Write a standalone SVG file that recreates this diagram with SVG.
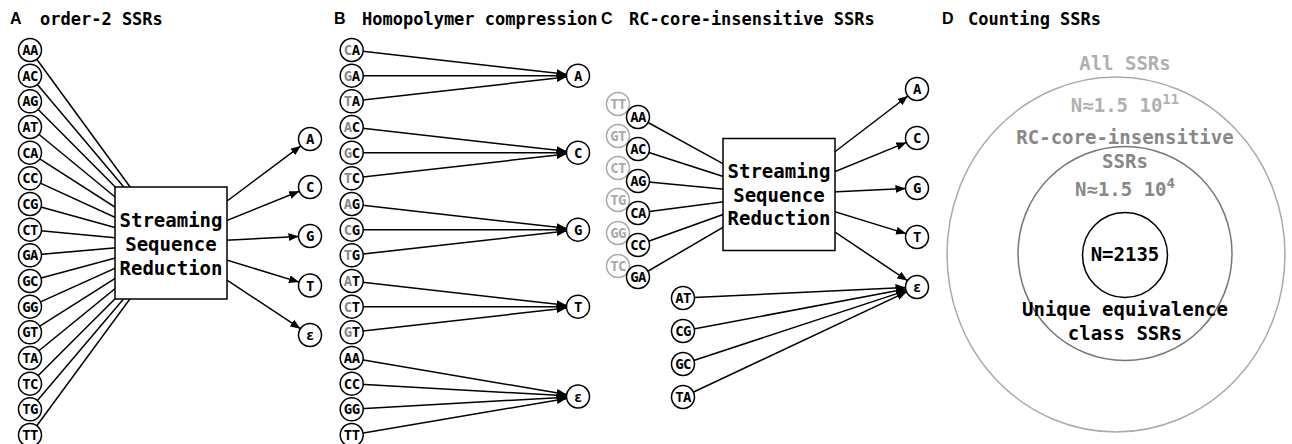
<svg xmlns="http://www.w3.org/2000/svg" width="1292" height="444" viewBox="0 0 1292 444">
<defs>
<marker id="arr" markerWidth="10" markerHeight="8" refX="10" refY="4" orient="auto" markerUnits="userSpaceOnUse">
<path d="M0,0 L10,4 L0,8 z" fill="#000"/>
</marker>
<style>
.ttl{font-family:"DejaVu Sans Mono",monospace;font-weight:bold;font-size:17px;fill:#000}
.let{font-family:"Liberation Sans",Arial,sans-serif;font-weight:bold;font-size:16px;fill:#000}
.nd circle{fill:#fff;stroke:#000;stroke-width:1.5}
.nd text{font-family:"DejaVu Sans Mono",monospace;font-weight:bold;font-size:14px;letter-spacing:-0.6px;text-anchor:middle;fill:#000}
.gn circle{fill:#fff;stroke:#aaa;stroke-width:1.5}
.gn text{font-family:"DejaVu Sans Mono",monospace;font-weight:bold;font-size:14px;letter-spacing:-0.6px;text-anchor:middle;fill:#aaa}
.g{fill:#888}
.box rect{fill:#fff;stroke:#000;stroke-width:1.5}
.box text,.dt{font-family:"DejaVu Sans Mono",monospace;font-weight:bold;font-size:19px;text-anchor:middle;fill:#000}
.ln line{stroke:#000;stroke-width:1.5;fill:none}
.ln line.a{marker-end:url(#arr)}
</style>
</defs>
<rect width="1292" height="444" fill="#fff"/>

<!-- titles -->
<g id="titles">
<text class="let" x="10" y="23.5">A</text><text class="ttl" x="40" y="25">order-2 SSRs</text>
<text class="let" x="334" y="23.5">B</text><text class="ttl" x="362" y="25">Homopolymer compression</text>
<text class="let" x="601" y="23.5">C</text><text class="ttl" x="629" y="25">RC-core-insensitive SSRs</text>
<text class="let" x="942" y="23.5">D</text><text class="ttl" x="968" y="25">Counting SSRs</text>
</g>

<!-- connectors -->
<g id="connectors" class="ln">
<!-- panel A inputs -->
<line x1="30" y1="50" x2="171" y2="243"/>
<line x1="30" y1="75.67" x2="171" y2="243"/>
<line x1="30" y1="101.33" x2="171" y2="243"/>
<line x1="30" y1="127" x2="171" y2="243"/>
<line x1="30" y1="152.67" x2="171" y2="243"/>
<line x1="30" y1="178.33" x2="171" y2="243"/>
<line x1="30" y1="204" x2="171" y2="243"/>
<line x1="30" y1="229.67" x2="171" y2="243"/>
<line x1="30" y1="255.33" x2="171" y2="243"/>
<line x1="30" y1="281" x2="171" y2="243"/>
<line x1="30" y1="306.67" x2="171" y2="243"/>
<line x1="30" y1="332.33" x2="171" y2="243"/>
<line x1="30" y1="358" x2="171" y2="243"/>
<line x1="30" y1="383.67" x2="171" y2="243"/>
<line x1="30" y1="409.33" x2="171" y2="243"/>
<line x1="30" y1="435" x2="171" y2="243"/>
<!-- panel A outputs -->
<line class="a" x1="171" y1="243" x2="300.8" y2="145.9"/>
<line class="a" x1="171" y1="243" x2="299.3" y2="191.3"/>
<line class="a" x1="171" y1="243" x2="298.5" y2="236.6"/>
<line class="a" x1="171" y1="243" x2="299" y2="282.1"/>
<line class="a" x1="171" y1="243" x2="300.4" y2="328.7"/>
<!-- panel B -->
<line class="a" x1="351.7" y1="50" x2="566.57" y2="74.37"/>
<line class="a" x1="351.7" y1="75.67" x2="566.5" y2="75.67"/>
<line class="a" x1="351.7" y1="101.33" x2="566.57" y2="76.97"/>
<line class="a" x1="351.7" y1="127" x2="566.57" y2="151.37"/>
<line class="a" x1="351.7" y1="152.67" x2="566.5" y2="152.67"/>
<line class="a" x1="351.7" y1="178.33" x2="566.57" y2="153.97"/>
<line class="a" x1="351.7" y1="204" x2="566.57" y2="228.37"/>
<line class="a" x1="351.7" y1="229.67" x2="566.5" y2="229.67"/>
<line class="a" x1="351.7" y1="255.33" x2="566.57" y2="230.97"/>
<line class="a" x1="351.7" y1="281" x2="566.57" y2="305.37"/>
<line class="a" x1="351.7" y1="306.67" x2="566.5" y2="306.67"/>
<line class="a" x1="351.7" y1="332.33" x2="566.57" y2="307.97"/>
<line class="a" x1="351.7" y1="358" x2="566.66" y2="394.57"/>
<line class="a" x1="351.7" y1="383.67" x2="566.52" y2="395.85"/>
<line class="a" x1="351.7" y1="409.33" x2="566.52" y2="397.15"/>
<line class="a" x1="351.7" y1="435" x2="566.66" y2="398.43"/>
<!-- panel C inputs -->
<line x1="638" y1="117" x2="779" y2="194.5"/>
<line x1="638" y1="149" x2="779" y2="194.5"/>
<line x1="638" y1="181" x2="779" y2="194.5"/>
<line x1="638" y1="213" x2="779" y2="194.5"/>
<line x1="638" y1="245" x2="779" y2="194.5"/>
<line x1="638" y1="277" x2="779" y2="194.5"/>
<!-- panel C outputs -->
<line class="a" x1="779" y1="194.5" x2="907.9" y2="96"/>
<line class="a" x1="779" y1="194.5" x2="906.4" y2="142.4"/>
<line class="a" x1="779" y1="194.5" x2="905.5" y2="188.5"/>
<line class="a" x1="779" y1="194.5" x2="906" y2="233.6"/>
<line class="a" x1="779" y1="194.5" x2="907.4" y2="280.6"/>
<!-- panel C lower -->
<line class="a" x1="683" y1="298" x2="905.5" y2="287.5"/>
<line class="a" x1="683" y1="331" x2="905.7" y2="289.1"/>
<line class="a" x1="683" y1="364" x2="906.1" y2="290.6"/>
<line class="a" x1="683" y1="397" x2="906.6" y2="291.9"/>
</g>

<!-- Panel A nodes -->
<g id="A-inputs" class="nd">
<g id="a-AA"><circle cx="30" cy="50" r="11.5"/><text x="30" y="55">AA</text></g>
<g id="a-AC"><circle cx="30" cy="75.67" r="11.5"/><text x="30" y="80.67">AC</text></g>
<g id="a-AG"><circle cx="30" cy="101.33" r="11.5"/><text x="30" y="106.33">AG</text></g>
<g id="a-AT"><circle cx="30" cy="127" r="11.5"/><text x="30" y="132">AT</text></g>
<g id="a-CA"><circle cx="30" cy="152.67" r="11.5"/><text x="30" y="157.67">CA</text></g>
<g id="a-CC"><circle cx="30" cy="178.33" r="11.5"/><text x="30" y="183.33">CC</text></g>
<g id="a-CG"><circle cx="30" cy="204" r="11.5"/><text x="30" y="209">CG</text></g>
<g id="a-CT"><circle cx="30" cy="229.67" r="11.5"/><text x="30" y="234.67">CT</text></g>
<g id="a-GA"><circle cx="30" cy="255.33" r="11.5"/><text x="30" y="260.33">GA</text></g>
<g id="a-GC"><circle cx="30" cy="281" r="11.5"/><text x="30" y="286">GC</text></g>
<g id="a-GG"><circle cx="30" cy="306.67" r="11.5"/><text x="30" y="311.67">GG</text></g>
<g id="a-GT"><circle cx="30" cy="332.33" r="11.5"/><text x="30" y="337.33">GT</text></g>
<g id="a-TA"><circle cx="30" cy="358" r="11.5"/><text x="30" y="363">TA</text></g>
<g id="a-TC"><circle cx="30" cy="383.67" r="11.5"/><text x="30" y="388.67">TC</text></g>
<g id="a-TG"><circle cx="30" cy="409.33" r="11.5"/><text x="30" y="414.33">TG</text></g>
<g id="a-TT"><circle cx="30" cy="435" r="11.5"/><text x="30" y="440">TT</text></g>
</g>
<g id="a-box" class="box"><rect x="115" y="187" width="112" height="112"/>
<text x="171" y="227">Streaming</text><text x="171" y="251">Sequence</text><text x="171" y="275">Reduction</text></g>
<g id="A-outputs" class="nd">
<g id="a-oA"><circle cx="310" cy="139" r="11.5"/><text x="310" y="144">A</text></g>
<g id="a-oC"><circle cx="310" cy="187" r="11.5"/><text x="310" y="192">C</text></g>
<g id="a-oG"><circle cx="310" cy="236" r="11.5"/><text x="310" y="241">G</text></g>
<g id="a-oT"><circle cx="310" cy="285.5" r="11.5"/><text x="310" y="290.5">T</text></g>
<g id="a-oE"><circle cx="310" cy="335" r="11.5"/><text x="310" y="340">ε</text></g>
</g>

<!-- Panel B nodes -->
<g id="B-inputs" class="nd">
<g id="b-CA"><circle cx="351.7" cy="50" r="11.5"/><text x="351.7" y="55"><tspan class="g">C</tspan>A</text></g>
<g id="b-GA"><circle cx="351.7" cy="75.67" r="11.5"/><text x="351.7" y="80.67"><tspan class="g">G</tspan>A</text></g>
<g id="b-TA"><circle cx="351.7" cy="101.33" r="11.5"/><text x="351.7" y="106.33"><tspan class="g">T</tspan>A</text></g>
<g id="b-AC"><circle cx="351.7" cy="127" r="11.5"/><text x="351.7" y="132"><tspan class="g">A</tspan>C</text></g>
<g id="b-GC"><circle cx="351.7" cy="152.67" r="11.5"/><text x="351.7" y="157.67"><tspan class="g">G</tspan>C</text></g>
<g id="b-TC"><circle cx="351.7" cy="178.33" r="11.5"/><text x="351.7" y="183.33"><tspan class="g">T</tspan>C</text></g>
<g id="b-AG"><circle cx="351.7" cy="204" r="11.5"/><text x="351.7" y="209"><tspan class="g">A</tspan>G</text></g>
<g id="b-CG"><circle cx="351.7" cy="229.67" r="11.5"/><text x="351.7" y="234.67"><tspan class="g">C</tspan>G</text></g>
<g id="b-TG"><circle cx="351.7" cy="255.33" r="11.5"/><text x="351.7" y="260.33"><tspan class="g">T</tspan>G</text></g>
<g id="b-AT"><circle cx="351.7" cy="281" r="11.5"/><text x="351.7" y="286"><tspan class="g">A</tspan>T</text></g>
<g id="b-CT"><circle cx="351.7" cy="306.67" r="11.5"/><text x="351.7" y="311.67"><tspan class="g">C</tspan>T</text></g>
<g id="b-GT"><circle cx="351.7" cy="332.33" r="11.5"/><text x="351.7" y="337.33"><tspan class="g">G</tspan>T</text></g>
<g id="b-AA"><circle cx="351.7" cy="358" r="11.5"/><text x="351.7" y="363">AA</text></g>
<g id="b-CC"><circle cx="351.7" cy="383.67" r="11.5"/><text x="351.7" y="388.67">CC</text></g>
<g id="b-GG"><circle cx="351.7" cy="409.33" r="11.5"/><text x="351.7" y="414.33">GG</text></g>
<g id="b-TT"><circle cx="351.7" cy="435" r="11.5"/><text x="351.7" y="440">TT</text></g>
</g>
<g id="B-outputs" class="nd">
<g id="b-oA"><circle cx="578" cy="75.67" r="11.5"/><text x="578" y="80.67">A</text></g>
<g id="b-oC"><circle cx="578" cy="152.67" r="11.5"/><text x="578" y="157.67">C</text></g>
<g id="b-oG"><circle cx="578" cy="229.67" r="11.5"/><text x="578" y="234.67">G</text></g>
<g id="b-oT"><circle cx="578" cy="306.67" r="11.5"/><text x="578" y="311.67">T</text></g>
<g id="b-oE"><circle cx="578" cy="396.5" r="11.5"/><text x="578" y="401.5">ε</text></g>
</g>

<!-- Panel C nodes -->
<g id="C-rc" class="gn">
<g id="c-TT"><circle cx="618" cy="104" r="11.5"/><text x="618" y="109">TT</text></g>
<g id="c-GT"><circle cx="618" cy="136" r="11.5"/><text x="618" y="141">GT</text></g>
<g id="c-CT"><circle cx="618" cy="168" r="11.5"/><text x="618" y="173">CT</text></g>
<g id="c-TG"><circle cx="618" cy="200" r="11.5"/><text x="618" y="205">TG</text></g>
<g id="c-GG"><circle cx="618" cy="233" r="11.5"/><text x="618" y="238">GG</text></g>
<g id="c-TC"><circle cx="618" cy="266" r="11.5"/><text x="618" y="271">TC</text></g>
</g>
<g id="C-inputs" class="nd">
<g id="c-AA"><circle cx="638" cy="117" r="11.5"/><text x="638" y="122">AA</text></g>
<g id="c-AC"><circle cx="638" cy="149" r="11.5"/><text x="638" y="154">AC</text></g>
<g id="c-AG"><circle cx="638" cy="181" r="11.5"/><text x="638" y="186">AG</text></g>
<g id="c-CA"><circle cx="638" cy="213" r="11.5"/><text x="638" y="218">CA</text></g>
<g id="c-CC"><circle cx="638" cy="245" r="11.5"/><text x="638" y="250">CC</text></g>
<g id="c-GA"><circle cx="638" cy="277" r="11.5"/><text x="638" y="282">GA</text></g>
</g>
<g id="c-box" class="box"><rect x="723" y="138.5" width="112" height="112"/>
<text x="779" y="178">Streaming</text><text x="779" y="201.5">Sequence</text><text x="779" y="225">Reduction</text></g>
<g id="C-lower" class="nd">
<g id="c-AT"><circle cx="683" cy="298" r="11.5"/><text x="683" y="303">AT</text></g>
<g id="c-CG"><circle cx="683" cy="331" r="11.5"/><text x="683" y="336">CG</text></g>
<g id="c-GC"><circle cx="683" cy="364" r="11.5"/><text x="683" y="369">GC</text></g>
<g id="c-TA"><circle cx="683" cy="397" r="11.5"/><text x="683" y="402">TA</text></g>
</g>
<g id="C-outputs" class="nd">
<g id="c-oA"><circle cx="917" cy="89" r="11.5"/><text x="917" y="94">A</text></g>
<g id="c-oC"><circle cx="917" cy="138" r="11.5"/><text x="917" y="143">C</text></g>
<g id="c-oG"><circle cx="917" cy="188" r="11.5"/><text x="917" y="193">G</text></g>
<g id="c-oT"><circle cx="917" cy="237" r="11.5"/><text x="917" y="242">T</text></g>
<g id="c-oE"><circle cx="917" cy="287" r="11.5"/><text x="917" y="292">ε</text></g>
</g>

<!-- Panel D -->
<g id="d-all">
<ellipse cx="1116" cy="254.5" rx="169" ry="177.5" fill="none" stroke="#aaa" stroke-width="1.5"/>
<text class="dt" x="1125" y="70" style="fill:#b0b0b0">All SSRs</text>
<text class="dt" x="1125" y="112" style="fill:#b0b0b0">N≈1.5 10<tspan font-size="14" dy="-8">11</tspan></text>
</g>
<g id="d-rc">
<circle cx="1125" cy="253.5" r="107" fill="none" stroke="#777" stroke-width="1.5"/>
<text class="dt" x="1125" y="143.5" style="fill:#888">RC-core-insensitive</text>
<text class="dt" x="1125" y="168" style="fill:#888">SSRs</text>
<text class="dt" x="1125" y="196" style="fill:#888">N≈1.5 10<tspan font-size="14" dy="-8">4</tspan></text>
</g>
<g id="d-unique">
<circle cx="1125" cy="255" r="42.5" fill="none" stroke="#000" stroke-width="1.5"/>
<text class="dt" x="1125" y="261">N=2135</text>
<text class="dt" x="1125" y="316">Unique equivalence</text>
<text class="dt" x="1125" y="340">class SSRs</text>
</g>
</svg>
